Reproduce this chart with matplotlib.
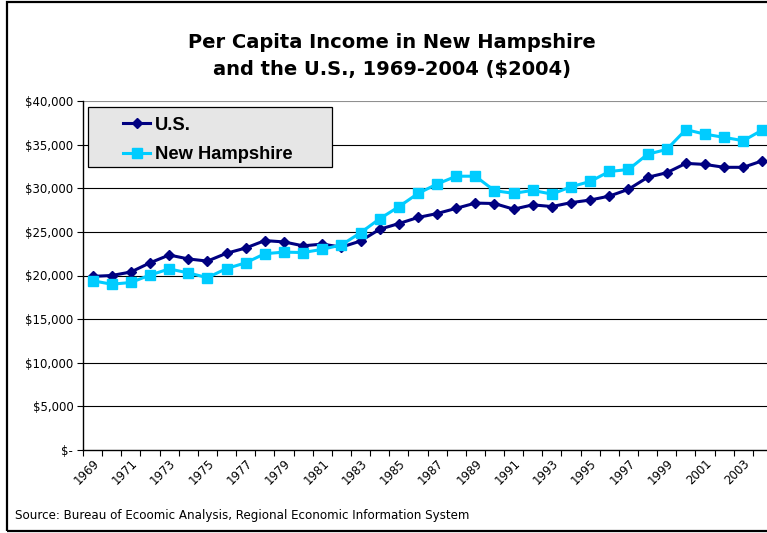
import matplotlib
matplotlib.use("Agg")
import matplotlib.pyplot as plt
from matplotlib.patches import Rectangle
from matplotlib.lines import Line2D

# -------------------------------
# Data (2004 dollars)
# -------------------------------
years = list(range(1969, 2005))
us_income = [19900, 20000, 20400, 21450, 22350, 21900, 21650, 22550, 23150, 24000,
             23850, 23400, 23600, 23250, 23950, 25300, 25950, 26650, 27100, 27700,
             28300, 28250, 27600, 28100, 27900, 28350, 28650, 29100, 29880, 31250,
             31780, 32850, 32730, 32400, 32400, 33150]
nh_income = [19400, 19000, 19200, 20050, 20750, 20300, 19750, 20800, 21450, 22500,
             22680, 22630, 23000, 23500, 24900, 26500, 27880, 29400, 30480, 31380,
             31380, 29720, 29420, 29750, 29330, 30170, 30780, 31920, 32150, 33900,
             34450, 36720, 36200, 35830, 35450, 36680]
y_ticks = [0, 5000, 10000, 15000, 20000, 25000, 30000, 35000, 40000]
y_labels = ["$-", "$5,000", "$10,000", "$15,000", "$20,000", "$25,000",
            "$30,000", "$35,000", "$40,000"]

US_COLOR = "#000080"
NH_COLOR = "#00CCFF"

# -------------------------------
# Figure
# -------------------------------
W, H = 767, 533
fig = plt.figure(figsize=(W / 100, H / 100), dpi=100)

# outer chart border (right side is cut off in the original)
fig.patches.append(Rectangle((7 / W, 2 / H), 1.2, (531 - 2) / H, transform=fig.transFigure,
                             fill=False, edgecolor="black", linewidth=1.6))

left, right, top, bottom = 83, 772, 101, 450
ax = fig.add_axes([left / W, 1 - bottom / H, (right - left) / W, (bottom - top) / H])

x = list(range(len(years)))
ax.plot(x, us_income, color=US_COLOR, marker="D", markersize=5.4, linewidth=2.2,
        label="U.S.", zorder=3, clip_on=False)
ax.plot(x, nh_income, color=NH_COLOR, marker="s", markersize=6.5, linewidth=2.2,
        label="New Hampshire", zorder=3, clip_on=False)

ax.set_xlim(-0.5, len(years) - 0.5)
ax.set_ylim(0, 40000)

# gridlines
for v in y_ticks[1:]:
    ax.axhline(v, color="#909090" if v == 40000 else "black", linewidth=0.8, zorder=1)

ax.set_yticks(y_ticks)
ax.set_yticklabels(y_labels, fontsize=8.5)
ax.set_xticks(x[::2])
ax.set_xticklabels([str(yr) for yr in years[::2]], fontsize=8.5, rotation=45,
                   ha="right", rotation_mode="anchor")
ax.set_xticks([i - 0.5 for i in range(len(years) + 1)], minor=True)
ax.tick_params(axis="x", which="major", length=0, pad=5)
ax.tick_params(axis="x", which="minor", length=4, width=0.8, direction="out")
ax.tick_params(axis="y", length=4, width=0.8, direction="out", pad=3)

for s in ["top", "right"]:
    ax.spines[s].set_visible(False)
ax.spines["left"].set_linewidth(1.0)
ax.spines["bottom"].set_linewidth(1.0)

# legend box
fig.patches.append(Rectangle((88 / W, 1 - 167 / H), 244 / W, 60 / H, transform=fig.transFigure,
                             facecolor="#e6e6e6", edgecolor="black", linewidth=0.9, zorder=4))
handles = [Line2D([], [], color=US_COLOR, marker="D", markersize=5.4, linewidth=2.2),
           Line2D([], [], color=NH_COLOR, marker="s", markersize=6.5, linewidth=2.2)]
leg = fig.legend(handles, ["U.S.", "New Hampshire"], loc="upper left",
                 bbox_to_anchor=(110 / W, 1 - 104 / H), frameon=False,
                 prop={"family": "Liberation Sans", "weight": "bold", "size": 13.2},
                 handlelength=1.5, handletextpad=0.27, labelspacing=0.68, borderpad=0.2)
leg.set_zorder(5)

fig.text(392 / W, 1 - 42 / H, "Per Capita Income in New Hampshire",
         ha="center", va="center", fontsize=14, fontweight="bold")
fig.text(392 / W, 1 - 70 / H, "and the U.S., 1969-2004 ($2004)",
         ha="center", va="center", fontsize=14, fontweight="bold")
fig.text(15 / W, 1 - 516 / H,
         "Source: Bureau of Ecoomic Analysis, Regional Economic Information System",
         ha="left", va="center", fontsize=8.6)

fig.savefig("out.png", dpi=100)
